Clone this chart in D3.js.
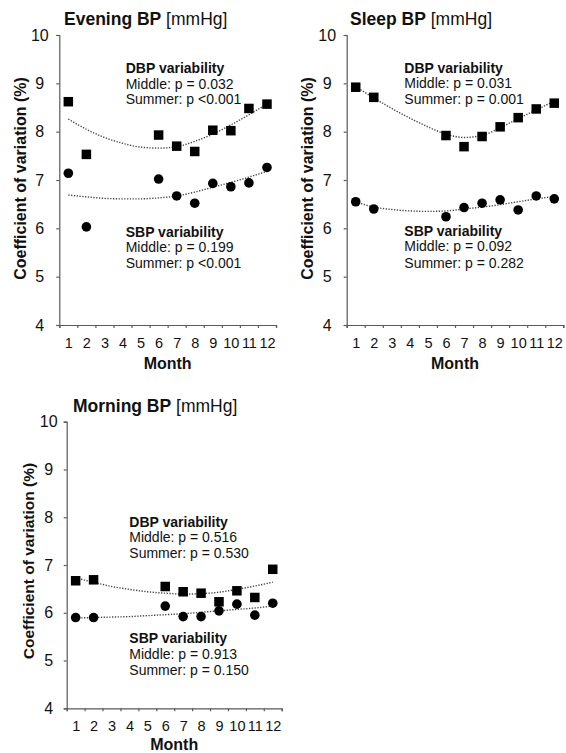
<!DOCTYPE html>
<html>
<head>
<meta charset="utf-8">
<script src="https://cdn.jsdelivr.net/npm/d3@7"></script>
<style>
  html, body { margin: 0; padding: 0; background: #fff; }
  svg { display: block; font-family: "Liberation Sans", Arial, Helvetica, sans-serif; }
</style>
</head>
<body>
<svg id="chart" width="566" height="753"></svg>
<script>
// ---------------- DATA ----------------
const months = [1, 2, 3, 4, 5, 6, 7, 8, 9, 10, 11, 12];
const dataMonths = [1, 2, 6, 7, 8, 9, 10, 11, 12];
const yTicks = [4, 5, 6, 7, 8, 9, 10];

const eveningDBP = [8.62, 7.53, 7.93, 7.70, 7.59, 8.03, 8.02, 8.48, 8.57];
const eveningSBP = [7.14, 6.03, 7.02, 6.67, 6.52, 6.93, 6.86, 6.94, 7.26];
const eveningDBPTrend = [8.26, 8.05, 7.88, 7.76, 7.68, 7.66, 7.69, 7.80, 7.95, 8.14, 8.35, 8.57];
const eveningSBPTrend = [6.69, 6.65, 6.62, 6.61, 6.61, 6.63, 6.67, 6.75, 6.85, 6.95, 7.06, 7.18];

const sleepDBP = [8.92, 8.71, 7.92, 7.69, 7.90, 8.10, 8.29, 8.47, 8.59];
const sleepSBP = [6.55, 6.40, 6.24, 6.43, 6.52, 6.59, 6.38, 6.67, 6.61];
const sleepDBPTrend = [8.93, 8.70, 8.48, 8.28, 8.10, 7.95, 7.88, 7.92, 8.08, 8.27, 8.45, 8.63];
const sleepSBPTrend = [6.55, 6.44, 6.39, 6.36, 6.35, 6.36, 6.40, 6.44, 6.49, 6.55, 6.61, 6.66];

const morningDBP = [6.67, 6.69, 6.55, 6.44, 6.41, 6.23, 6.46, 6.32, 6.91];
const morningSBP = [5.90, 5.90, 6.14, 5.92, 5.92, 6.04, 6.18, 5.95, 6.20];
const morningDBPTrend = [6.73, 6.64, 6.55, 6.49, 6.44, 6.41, 6.39, 6.40, 6.43, 6.49, 6.56, 6.64];
const morningSBPTrend = [5.89, 5.90, 5.91, 5.92, 5.94, 5.96, 5.98, 6.01, 6.04, 6.07, 6.10, 6.14];

const titlesBold = ["Evening BP", "Sleep BP", "Morning BP"];
const titleUnit = "[mmHg]";
const yTitle = "Coefficient of variation (%)";
const xTitle = "Month";
const dbpNotes = [
  ["DBP variability", "Middle: p = 0.032", "Summer: p <0.001"],
  ["DBP variability", "Middle: p = 0.031", "Summer: p = 0.001"],
  ["DBP variability", "Middle: p = 0.516", "Summer: p = 0.530"]
];
const sbpNotes = [
  ["SBP variability", "Middle: p = 0.199", "Summer: p <0.001"],
  ["SBP variability", "Middle: p = 0.092", "Summer: p = 0.282"],
  ["SBP variability", "Middle: p = 0.913", "Summer: p = 0.150"]
];

// ---------------- LAYOUT ----------------
const panels = [
  { left: 59.3, right: 276, top: 35, bottom: 325, titleX: 64, titleY: 25,
    noteX: 125.7, dbpY: [73, 88.5, 104], sbpY: [236.5, 252, 267.5],
    yLabX: 26, yLabY: 178.5, yLabSize: 16, tickLabOff: 19.5, monthY: 369,
    dbp: eveningDBP, sbp: eveningSBP, dbpT: eveningDBPTrend, sbpT: eveningSBPTrend },
  { left: 346.7, right: 563.3, top: 35, bottom: 325, titleX: 350, titleY: 25,
    noteX: 404.3, dbpY: [72.7, 88.3, 104], sbpY: [235.5, 251, 267.5],
    yLabX: 313.3, yLabY: 178.5, yLabSize: 16, tickLabOff: 19.5, monthY: 369,
    dbp: sleepDBP, sbp: sleepSBP, dbpT: sleepDBPTrend, sbpT: sleepSBPTrend },
  { left: 66.7, right: 281.7, top: 421.7, bottom: 708.3, titleX: 73, titleY: 411.5,
    noteX: 129.3, dbpY: [526.7, 542, 557.7], sbpY: [643.3, 659.3, 675],
    yLabX: 34, yLabY: 561, yLabSize: 15.5, tickLabOff: 18, monthY: 749.5,
    dbp: morningDBP, sbp: morningSBP, dbpT: morningDBPTrend, sbpT: morningSBPTrend }
];

const svg = d3.select("#chart");
const ink = "#111";
const axisCol = "#5a5a5a";

panels.forEach((p, i) => {
  const g = svg.append("g");
  const x = d3.scaleLinear().domain([0.5, 12.5]).range([p.left, p.right]);
  const y = d3.scaleLinear().domain([4, 10]).range([p.bottom, p.top]);

  // Y axis
  const ya = g.append("g").attr("transform", `translate(${p.left},0)`)
    .call(d3.axisLeft(y).tickValues(yTicks).tickSize(3).tickFormat(d3.format("d")));
  ya.select(".domain").attr("stroke", axisCol).attr("stroke-width", 1.2);
  ya.selectAll(".tick line").attr("stroke", axisCol).attr("stroke-width", 1.2);
  ya.selectAll(".tick text")
    .attr("x", -p.tickLabOff).attr("text-anchor", "middle")
    .attr("font-size", 16).attr("fill", ink)
    .attr("font-family", "Liberation Sans, Arial, sans-serif");

  // X axis: ticks at band edges
  const edges = d3.range(0.5, 13, 1);
  const xa = g.append("g").attr("transform", `translate(0,${p.bottom})`)
    .call(d3.axisBottom(x).tickValues(edges).tickSize(3).tickFormat(""));
  xa.select(".domain").attr("stroke", axisCol).attr("stroke-width", 1.2);
  xa.selectAll(".tick line").attr("stroke", axisCol).attr("stroke-width", 1.2);

  // X labels at band centres
  const xl = g.append("g").attr("transform", `translate(0,${p.bottom})`)
    .call(d3.axisBottom(x).tickValues(months).tickSize(0).tickFormat(d3.format("d")));
  xl.select(".domain").remove();
  xl.selectAll(".tick text")
    .attr("y", 22.5).attr("dy", 0)
    .attr("font-size", 14.5).attr("fill", ink)
    .attr("font-family", "Liberation Sans, Arial, sans-serif");

  // Axis titles
  g.append("text")
    .attr("x", (p.left + p.right) / 2).attr("y", p.monthY)
    .attr("text-anchor", "middle").attr("font-weight", "bold")
    .attr("font-size", 16).attr("fill", ink).text(xTitle);
  g.append("text")
    .attr("transform", `translate(${p.yLabX},${p.yLabY}) rotate(-90)`)
    .attr("text-anchor", "middle").attr("font-weight", "bold")
    .attr("font-size", p.yLabSize).attr("fill", ink).text(yTitle);

  // Panel title
  const t = g.append("text").attr("x", p.titleX).attr("y", p.titleY)
    .attr("font-size", 17.5).attr("fill", ink);
  t.append("tspan").attr("font-weight", "bold").text(titlesBold[i]);
  t.append("tspan").text(" " + titleUnit);

  // Trend lines
  const line = d3.line().x((d, k) => x(months[k])).y(d => y(d)).curve(d3.curveMonotoneX);
  [p.dbpT, p.sbpT].forEach(tr => {
    g.append("path").datum(tr).attr("d", line)
      .attr("fill", "none").attr("stroke", "#444")
      .attr("stroke-width", 1.4).attr("stroke-dasharray", "1.3,1.5");
  });

  // Markers
  const sq = 9.5;
  g.selectAll(".sq").data(p.dbp).join("rect")
    .attr("x", (d, k) => x(dataMonths[k]) - sq / 2)
    .attr("y", d => y(d) - sq / 2)
    .attr("width", sq).attr("height", sq).attr("fill", "#000");
  g.selectAll(".ci").data(p.sbp).join("circle")
    .attr("cx", (d, k) => x(dataMonths[k]))
    .attr("cy", d => y(d)).attr("r", 4.8).attr("fill", "#000");

  // Notes
  const notes = (lines, ys) => {
    lines.forEach((s, k) => {
      g.append("text").attr("x", p.noteX).attr("y", ys[k])
        .attr("font-size", 14).attr("fill", ink)
        .attr("font-weight", k === 0 ? "bold" : "normal").text(s);
    });
  };
  notes(dbpNotes[i], p.dbpY);
  notes(sbpNotes[i], p.sbpY);
});
</script>
</body>
</html>
